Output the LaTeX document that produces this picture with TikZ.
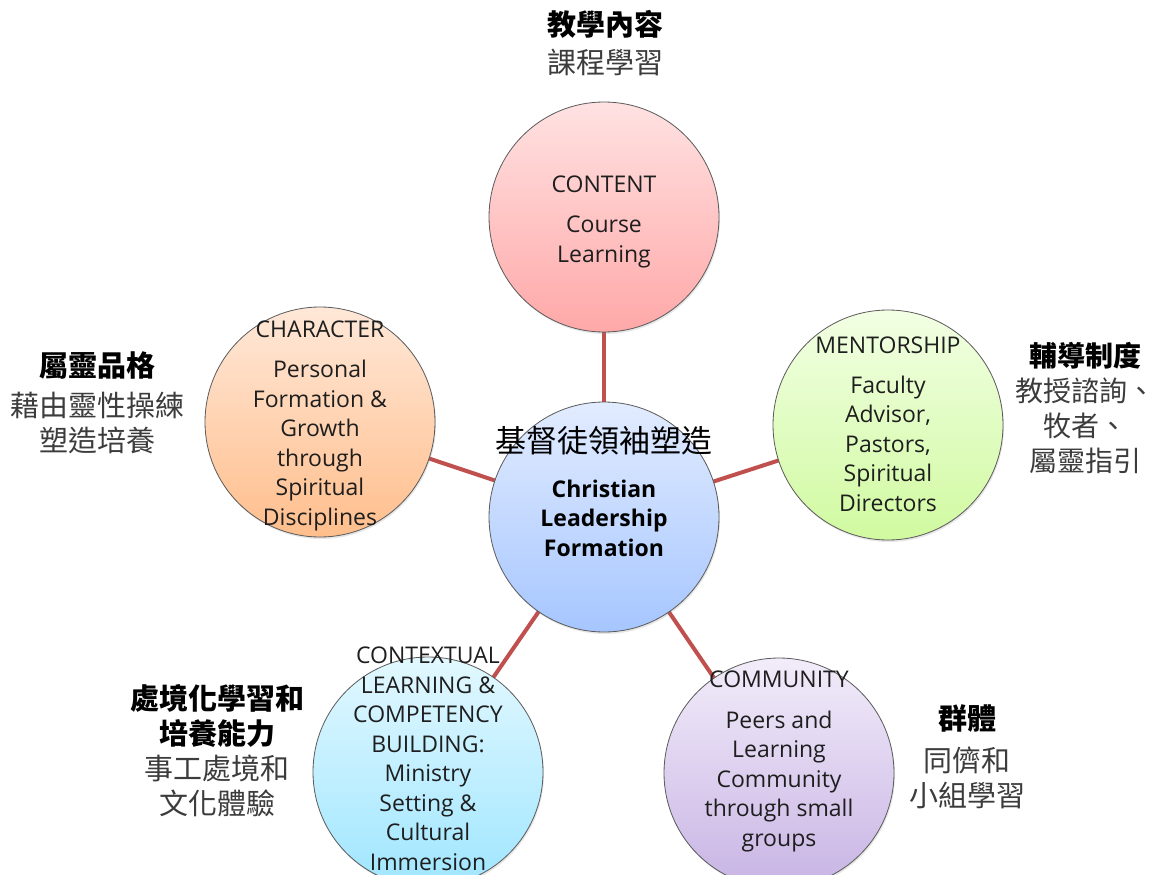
\documentclass[tikz,border=0pt]{standalone}
\usepackage{fontspec}
\setmainfont{Open Sans}
\newfontfamily\cjk{Noto Sans CJK TC}
\usepackage{tikz}
\usetikzlibrary{shadows, backgrounds}
\definecolor{rojizo}{RGB}{192, 80, 77}
\definecolor{gris}{RGB}{90, 90, 90}
\definecolor{texto}{RGB}{30, 30, 30}
\definecolor{tenue}{RGB}{60, 60, 60}
\definecolor{rosaA}{RGB}{255, 226, 226}
\definecolor{rosaB}{RGB}{255, 168, 168}
\definecolor{azulA}{RGB}{226, 236, 255}
\definecolor{azulB}{RGB}{166, 198, 255}
\definecolor{verdeA}{RGB}{242, 255, 228}
\definecolor{verdeB}{RGB}{208, 250, 160}
\definecolor{naranjaA}{RGB}{255, 232, 216}
\definecolor{naranjaB}{RGB}{255, 190, 140}
\definecolor{celesteA}{RGB}{226, 248, 255}
\definecolor{celesteB}{RGB}{160, 230, 255}
\definecolor{lilaA}{RGB}{242, 236, 250}
\definecolor{lilaB}{RGB}{200, 180, 228}
\tikzset{
    circ/.style={circle, draw=gris, line width=0.8pt, minimum size=230pt, inner sep=0pt,
                 drop shadow={opacity=0.2, shadow xshift=1pt, shadow yshift=-2pt}},
    conn/.style={-, rojizo, line width=4pt},
    txt/.style={align=center, inner sep=0pt, anchor=base, text=texto,
                font=\fontsize{23}{29.5}\selectfont},
    zh/.style={align=center, inner sep=0pt, anchor=base, text=black,
               font=\cjk\fontsize{29}{35}\selectfont},
}

\begin{document}
\begin{tikzpicture}[x=1pt, y=-1pt]
    \useasboundingbox (0,0) rectangle (1156,875);

    % circles
    \node [circ, top color=azulA, bottom color=azulB] (hub) at (604,517) {};
    \node [circ, top color=rosaA, bottom color=rosaB] (cont) at (604,217) {};
    \node [circ, top color=verdeA, bottom color=verdeB] (ment) at (888,425) {};
    \node [circ, top color=naranjaA, bottom color=naranjaB] (char) at (320,422) {};
    \node [circ, top color=celesteA, bottom color=celesteB] (ctx) at (428,772) {};
    \node [circ, top color=lilaA, bottom color=lilaB] (comm) at (779,773) {};

    \begin{pgfonlayer}{background}
        \draw[conn] (hub.center) -- (cont.center);
        \draw[conn] (hub.center) -- (ment.center);
        \draw[conn] (hub.center) -- (char.center);
        \draw[conn] (hub.center) -- (ctx.center);
        \draw[conn] (hub.center) -- (comm.center);
    \end{pgfonlayer}

    % texts in the circles (base = last line)
    \node [zh, font=\cjk\fontsize{31}{35}\selectfont] (hubZh) at (604,452) {基督徒領袖塑造};
    \node [txt, font=\bfseries\fontsize{23}{29.5}\selectfont, text=black] (hubTxt) at (604,556)
        {Christian\\Leadership\\Formation};
    \node [txt] (contTxt) at (604,262) {CONTENT\\[10.5pt]Course\\Learning};
    \node [txt] (mentTxt) at (888,511)
        {MENTORSHIP\\[10.5pt]Faculty\\Advisor,\\Pastors,\\Spiritual\\Directors};
    \node [txt] (charTxt) at (320,525)
        {CHARACTER\\[10.5pt]Personal\\Formation \&\\Growth\\through\\Spiritual\\Disciplines};
    \node [txt] (ctxTxt) at (428,870)
        {CONTEXTUAL\\LEARNING \&\\COMPETENCY\\BUILDING:\\Ministry\\Setting \&\\Cultural\\Immersion};
    \node [txt] (commTxt) at (779,846)
        {COMMUNITY\\[11pt]Peers and\\Learning\\Community\\through small\\groups};

    % chinese labels
    \node [zh] (contZh) at (605,74)
        {\textbf{教學內容}\\[3pt]\textcolor{tenue}{課程學習}};
    \node [zh] (charZh) at (97,451)
        {\textbf{屬靈品格}\\[5pt]\textcolor{tenue}{藉由靈性操練}\\\textcolor{tenue}{塑造培養}};
    \node [zh, font=\cjk\fontsize{28}{35}\selectfont] (mentZh) at (1085,471)
        {\textbf{輔導制度}\\\textcolor{tenue}{教授諮詢、}\\\textcolor{tenue}{牧者、}\\\textcolor{tenue}{屬靈指引}};
    \node [zh] (ctxZh) at (217,814)
        {\textbf{處境化學習和}\\\textbf{培養能力}\\\textcolor{tenue}{事工處境和}\\\textcolor{tenue}{文化體驗}};
    \node [zh] (commZh) at (967,806)
        {\textbf{群體}\\[7pt]\textcolor{tenue}{同儕和}\\\textcolor{tenue}{小組學習}};
\end{tikzpicture}
\end{document}
